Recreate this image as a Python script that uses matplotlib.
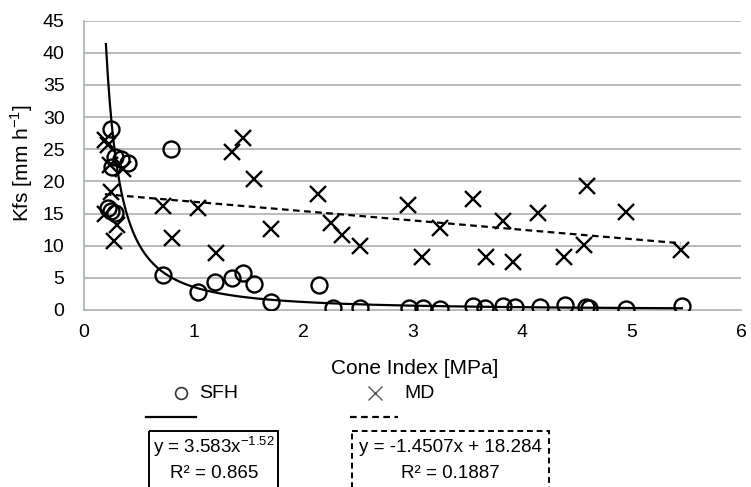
import matplotlib
matplotlib.use("Agg")
import matplotlib.pyplot as plt
from matplotlib.patches import Rectangle
import numpy as np

# SFH (circles) - Cone Index [MPa] vs Kfs [mm h-1]
sfh_x = [0.25, 0.28, 0.34, 0.40, 0.26, 0.22, 0.25, 0.28, 0.79, 0.72, 1.045, 1.20,
         1.35, 1.456, 1.55, 1.71, 2.15, 2.27, 2.52, 2.965, 3.10, 3.25, 3.55, 3.66,
         3.83, 3.94, 4.16, 4.39, 4.58, 4.61, 4.95, 5.46]
sfh_y = [28.2, 23.8, 23.5, 22.8, 22.3, 15.9, 15.4, 15.1, 25.0, 5.5, 2.85, 4.4,
         4.9, 5.8, 4.0, 1.3, 3.9, 0.26, 0.26, 0.26, 0.26, 0.1, 0.6, 0.26,
         0.6, 0.4, 0.4, 0.78, 0.4, 0.26, 0.1, 0.6]

# MD (crosses)
md_x = [0.19, 0.22, 0.24, 0.36, 0.25, 0.19, 0.30, 0.27, 0.72, 1.045, 0.80, 1.21,
        1.35, 1.456, 1.557, 1.71, 2.14, 2.26, 2.36, 2.52, 2.96, 3.09, 3.25, 3.55,
        3.67, 3.83, 3.92, 4.15, 4.38, 4.59, 4.57, 4.95, 5.45]
md_y = [26.4, 25.6, 22.5, 22.0, 18.4, 15.0, 13.2, 10.7, 16.1, 15.8, 11.2, 8.8,
        24.6, 26.8, 20.4, 12.6, 18.0, 13.5, 11.7, 9.9, 16.4, 8.3, 12.7, 17.2,
        8.3, 13.8, 7.5, 15.1, 8.3, 19.3, 10.1, 15.3, 9.3]

# trendline coefficients
pow_a, pow_b = 3.583, -1.52
lin_m, lin_c = -1.4507, 18.284

x_ticks = [0, 1, 2, 3, 4, 5, 6]
y_ticks = [0, 5, 10, 15, 20, 25, 30, 35, 40, 45]

plt.rcParams['font.family'] = ['Liberation Sans', 'DejaVu Sans']
plt.rcParams['mathtext.fontset'] = 'custom'
plt.rcParams['mathtext.rm'] = 'Liberation Sans'

fig = plt.figure(figsize=(7.51, 4.87), dpi=100)
ax = fig.add_axes([84 / 751, 1 - 310 / 487, (741 - 84) / 751, (310 - 20.7) / 487])

grid_c = '#a9b0b0'
for yt in y_ticks[1:]:
    ax.axhline(yt, color=grid_c, lw=1.2, zorder=0)

ax.plot(sfh_x, sfh_y, 'o', ms=11.5, mfc='none', mec='black', mew=1.7, ls='none', zorder=3)
ax.plot(md_x, md_y, 'x', ms=11.5, mec='black', mew=1.7, ls='none', zorder=3)

xp = np.linspace(0.2, max(sfh_x), 300)
ax.plot(xp, pow_a * xp ** pow_b, color='black', lw=1.6, zorder=4)
xl = np.array([min(md_x), max(md_x)])
ax.plot(xl, lin_m * xl + lin_c, color='black', lw=1.6, ls=(0, (3, 2)), zorder=4)

ax.set_xlim(0, 6)
ax.set_ylim(0, 45)
ax.set_xticks(x_ticks)
ax.set_yticks(y_ticks)
ax.tick_params(length=0, labelsize=14)
ax.tick_params(axis='y', pad=14)
ax.tick_params(axis='x', pad=10)
for s in ['top', 'right']:
    ax.spines[s].set_visible(False)
for s in ['left', 'bottom']:
    ax.spines[s].set_color(grid_c)
    ax.spines[s].set_linewidth(1.2)

fig.text(22 / 751, 1 - 163 / 487, 'Kfs [mm h$^{\\mathregular{-1}}$]', rotation=90,
         ha='center', va='center', fontsize=15)
fig.text(415 / 751, 1 - 368 / 487, 'Cone Index [MPa]', ha='center', va='center', fontsize=15)

# legend / equation area drawn in pixel coordinates
lg = fig.add_axes([0, 0, 1, 1], zorder=-1)
lg.set_xlim(0, 751)
lg.set_ylim(487, 0)
lg.axis('off')

lg.plot([181], [393], 'o', ms=8.5, mfc='none', mec='#333333', mew=1.2)
lg.text(199, 393, 'SFH', va='center', fontsize=14)
lg.plot([375], [393], 'x', ms=9.5, mec='#555555', mew=1.0)
lg.text(404, 393, 'MD', va='center', fontsize=14)
lg.plot([146, 196], [417, 417], color='black', lw=1.6)
lg.plot([350, 398], [417, 417], color='black', lw=1.6, ls=(0, (3, 2)))

lg.add_patch(Rectangle((149, 431), 129, 60, fill=False, ec='black', lw=1.4))
lg.text(214, 447, 'y = 3.583x$^{\\mathregular{-1.52}}$', ha='center', va='center', fontsize=13.5)
lg.text(214, 474, 'R² = 0.865', ha='center', va='center', fontsize=13.5)

lg.add_patch(Rectangle((352, 431), 197, 60, fill=False, ec='black', lw=1.4, ls=(0, (3, 2))))
lg.text(450, 447, 'y = -1.4507x + 18.284', ha='center', va='center', fontsize=13.5)
lg.text(450, 474, 'R² = 0.1887', ha='center', va='center', fontsize=13.5)

fig.savefig('out.png', dpi=100)
